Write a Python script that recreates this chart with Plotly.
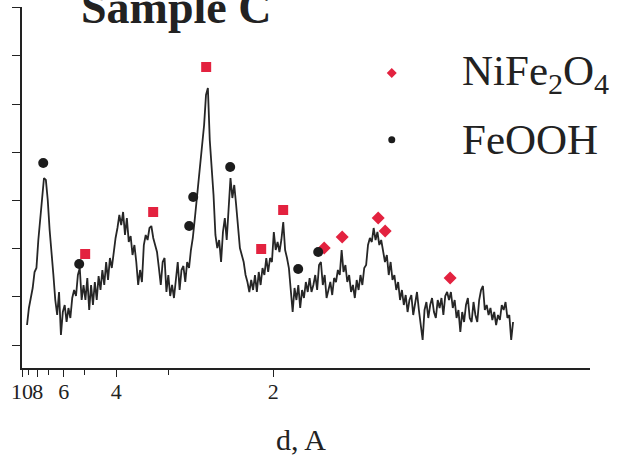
import plotly.graph_objects as go

# ---------------- data (x = 1/d in 1/Angstrom, y = intensity, a.u.) ----------------
inv_d = [
    0.108, 0.111, 0.114, 0.117, 0.120, 0.123, 0.126, 0.129, 0.132, 0.135,
    0.138, 0.141, 0.144, 0.147, 0.150, 0.153, 0.156, 0.159, 0.162, 0.165,
    0.168, 0.171, 0.174, 0.177, 0.180, 0.183, 0.186, 0.189, 0.192, 0.195,
    0.198, 0.201, 0.204, 0.207, 0.210, 0.213, 0.216, 0.219, 0.222, 0.225,
    0.228, 0.231, 0.234, 0.237, 0.240, 0.243, 0.246, 0.249, 0.252, 0.255,
    0.258, 0.261, 0.264, 0.267, 0.270, 0.273, 0.276, 0.279, 0.282, 0.285,
    0.288, 0.291, 0.294, 0.297, 0.300, 0.303, 0.306, 0.309, 0.312, 0.315,
    0.318, 0.321, 0.324, 0.327, 0.330, 0.333, 0.336, 0.339, 0.342, 0.345,
    0.348, 0.351, 0.354, 0.357, 0.360, 0.363, 0.366, 0.369, 0.372, 0.375,
    0.378, 0.381, 0.384, 0.387, 0.390, 0.393, 0.396, 0.399, 0.402, 0.405,
    0.408, 0.411, 0.414, 0.417, 0.420, 0.423, 0.426, 0.429, 0.432, 0.435,
    0.438, 0.441, 0.444, 0.447, 0.450, 0.453, 0.456, 0.459, 0.462, 0.465,
    0.468, 0.471, 0.474, 0.477, 0.480, 0.483, 0.486, 0.489, 0.492, 0.495,
    0.498, 0.501, 0.504, 0.507, 0.510, 0.513, 0.516, 0.519, 0.522, 0.525,
    0.528, 0.531, 0.534, 0.537, 0.540, 0.543, 0.546, 0.549, 0.552, 0.555,
    0.558, 0.561, 0.564, 0.567, 0.570, 0.573, 0.576, 0.579, 0.582, 0.585,
    0.588, 0.591, 0.594, 0.597, 0.600, 0.603, 0.606, 0.609, 0.612, 0.615,
    0.618, 0.621, 0.624, 0.627, 0.630, 0.633, 0.636, 0.639, 0.642, 0.645,
    0.648, 0.651, 0.654, 0.657, 0.660, 0.663, 0.666, 0.669, 0.672, 0.675,
    0.678, 0.681, 0.684, 0.687, 0.690, 0.693, 0.696, 0.699, 0.702, 0.705,
    0.708, 0.711, 0.714, 0.717, 0.720, 0.723, 0.726, 0.729, 0.732, 0.735,
    0.738, 0.741, 0.744, 0.747, 0.750, 0.753, 0.756, 0.759, 0.762, 0.765,
    0.768, 0.771, 0.774, 0.777, 0.780, 0.783, 0.786, 0.789, 0.792, 0.795,
    0.798, 0.801, 0.804, 0.807, 0.810, 0.813, 0.816, 0.819, 0.822, 0.825,
    0.828, 0.831, 0.834, 0.837, 0.840, 0.843, 0.846, 0.849, 0.852, 0.855,
    0.858, 0.861, 0.864, 0.867, 0.870, 0.873, 0.876, 0.879, 0.882,
]

intensity = [
    43, 60, 70, 80, 96, 100, 128, 150, 172, 190,
    188, 168, 138, 118, 93, 68, 53, 76, 33, 56,
    63, 46, 60, 50, 70, 78, 72, 93, 100, 68,
    83, 68, 90, 58, 83, 63, 86, 68, 92, 78,
    98, 83, 106, 88, 110, 100, 118, 130, 140, 153,
    143, 156, 133, 150, 126, 132, 113, 123, 106, 83,
    98, 86, 123, 133, 128, 140, 142, 130, 123, 116,
    100, 83, 106, 110, 76, 93, 72, 83, 70, 90,
    106, 78, 98, 102, 86, 106, 100, 118, 130, 148,
    168, 183, 203, 223, 243, 273, 280, 228, 200, 173,
    133, 120, 128, 106, 136, 150, 128, 163, 190, 170,
    183, 163, 143, 120, 113, 106, 93, 86, 76, 88,
    78, 93, 76, 96, 83, 100, 93, 110, 96, 110,
    106, 136, 118, 126, 116, 128, 146, 118, 110, 100,
    78, 56, 80, 68, 83, 60, 78, 70, 86, 76,
    90, 76, 83, 93, 78, 103, 106, 83, 93, 70,
    78, 86, 73, 90, 86, 98, 93, 118, 96, 103,
    86, 93, 76, 83, 70, 88, 78, 93, 83, 100,
    103, 123, 130, 126, 140, 128, 136, 123, 128, 118,
    106, 113, 93, 106, 88, 93, 78, 86, 68, 78,
    63, 73, 56, 68, 73, 53, 63, 76, 58, 43,
    28, 58, 66, 50, 63, 70, 56, 50, 68, 60,
    70, 53, 72, 76, 68, 76, 60, 68, 50, 58,
    36, 56, 46, 63, 70, 50, 46, 66, 53, 46,
    68, 78, 82, 58, 63, 53, 60, 48, 56, 43,
    53, 48, 63, 58, 66, 50, 53, 28, 46,
]

# phase markers
nife_inv_d = [0.2006, 0.3089, 0.3933, 0.4809, 0.5159, 0.5812, 0.6099, 0.6672, 0.6783, 0.7818]
nife_int = [114, 156, 301, 119, 158, 120, 131, 150, 137, 90]
nife_symbol = ["square", "square", "square", "square", "square",
               "diamond", "diamond", "diamond", "diamond", "diamond"]

feooh_inv_d = [0.1338, 0.1911, 0.3662, 0.3726, 0.4315, 0.5398, 0.5717]
feooh_int = [205, 104, 142, 171, 201, 99, 116]

d_major = [10, 8, 6, 4, 2]
d_minor = [9, 7, 5, 3]
major_labels = ["10", "8", "6", "4", "2"]

legend_names = ["NiFe<sub>2</sub>O<sub>4</sub>", "FeOOH"]
title_text = "<b>Sample C</b>"
x_title = "d, A"

RED = "#e3223f"
BLK = "#1c1c1c"
FONT = "Liberation Serif"

fig = go.Figure()
fig.add_trace(go.Scatter(x=inv_d, y=intensity, mode="lines",
                         line=dict(color="#262626", width=1.8), showlegend=False))
fig.add_trace(go.Scatter(x=nife_inv_d, y=nife_int, mode="markers",
                         marker=dict(symbol=nife_symbol, size=10, color=RED,
                                     line=dict(width=0)), showlegend=False))
fig.add_trace(go.Scatter(x=feooh_inv_d, y=feooh_int, mode="markers",
                         marker=dict(symbol="circle", size=10, color=BLK,
                                     line=dict(width=0)), showlegend=False))

fig.update_layout(
    width=621, height=458,
    margin=dict(l=22, r=31, t=7, b=90),
    paper_bgcolor="white", plot_bgcolor="white",
    showlegend=False,
    xaxis=dict(
        range=[0.1, 1.0045], showgrid=False, zeroline=False,
        showline=True, linecolor="#222", linewidth=1.5,
        ticks="outside", ticklen=7, tickwidth=1.3, tickcolor="#222",
        tickmode="array", tickvals=[1.0 / d for d in d_major], ticktext=major_labels,
        tickangle=0, ticklabelstandoff=-4,
        tickfont=dict(family=FONT, size=22, color="#222"),
        minor=dict(tickmode="array", tickvals=[1.0 / d for d in d_minor],
                   ticks="outside", ticklen=5, tickwidth=1.3, tickcolor="#222"),
    ),
    yaxis=dict(
        range=[0, 361], showgrid=False, zeroline=False,
        showline=True, linecolor="#222", linewidth=1.5,
        ticks="outside", ticklen=8, tickwidth=1.3, tickcolor="#222",
        tick0=23, dtick=48.2, showticklabels=False,
    ),
)

annotations = [
    dict(text=title_text, xref="paper", yref="paper", x=0.272, y=1.0,
         xanchor="center", yanchor="middle", showarrow=False,
         font=dict(family=FONT, size=46, color="#222")),
    dict(text=x_title, xref="paper", yref="paper", x=0.491, y=-0.197,
         xanchor="center", yanchor="middle", showarrow=False,
         font=dict(family=FONT, size=30, color="#222")),
    dict(text=legend_names[0], xref="paper", yref="paper", x=0.771, y=0.814,
         xanchor="left", yanchor="middle", showarrow=False,
         font=dict(family=FONT, size=43, color="#222")),
    dict(text=legend_names[1], xref="paper", yref="paper", x=0.771, y=0.632,
         xanchor="left", yanchor="middle", showarrow=False,
         font=dict(family=FONT, size=43, color="#222")),
]
fig.update_layout(annotations=annotations)

shapes = [
    dict(type="path", xref="paper", yref="paper", xsizemode="pixel", ysizemode="pixel",
         xanchor=0.651, yanchor=0.817, path="M0,5 L5,0 L0,-5 L-5,0 Z",
         fillcolor=RED, line=dict(width=0)),
    dict(type="circle", xref="paper", yref="paper", xsizemode="pixel", ysizemode="pixel",
         xanchor=0.651, yanchor=0.632, x0=-3.5, x1=3.5, y0=-3.5, y1=3.5,
         fillcolor=BLK, line=dict(width=0)),
]
fig.update_layout(shapes=shapes)

fig.write_html("out.html")
